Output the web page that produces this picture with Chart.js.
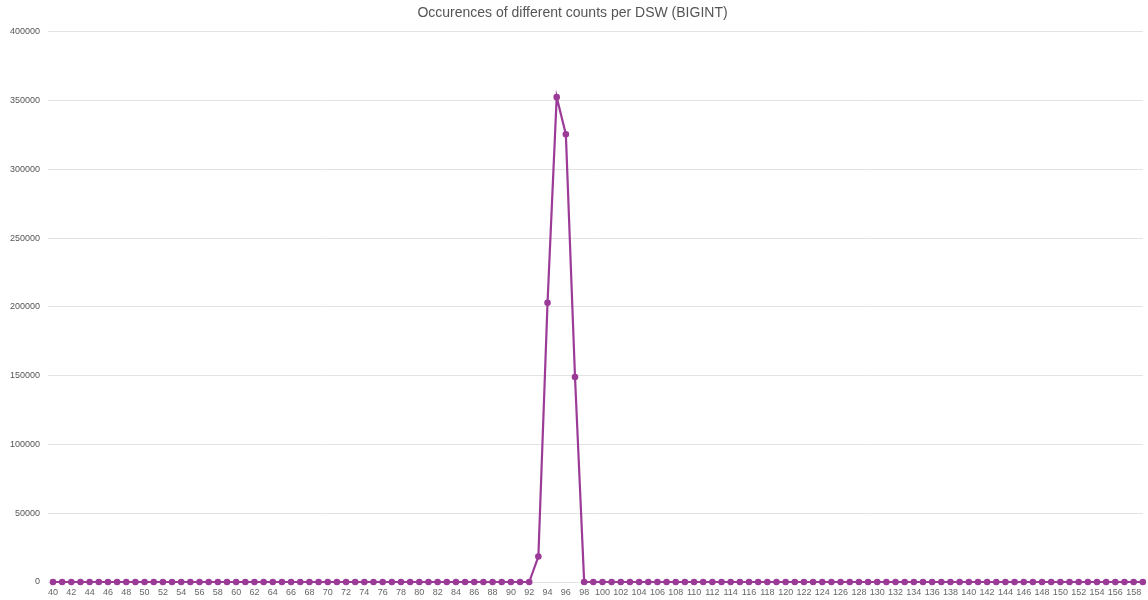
<!DOCTYPE html>
<html lang="en">
<head>
    <meta charset="UTF-8">
    <title>Occurences of different counts per DSW (BIGINT)</title>
    <script src="https://cdn.jsdelivr.net/npm/chart.js"></script>
    <style>
        body { margin: 0; background: #fff; }
        .chart-container { width: 1148px; height: 600px; position: relative; }
    </style>
</head>
<body>
    <div class="chart-container">
        <canvas id="dswChart"></canvas>
    </div>
    <script>
        // counts per DSW, 40 .. 159
        const counts = [];
        for (let c = 40; c <= 159; c++) counts.push(String(c));

        // non-zero occurrences, everything else is 0
        const peakCounts = ["93", "94", "95", "96", "97"];
        const peakValues = [18500, 203000, 352500, 325500, 149000];

        const occurrences = counts.map(c => {
            const i = peakCounts.indexOf(c);
            return i >= 0 ? peakValues[i] : 0;
        });

        const yTicks = [0, 50000, 100000, 150000, 200000, 250000, 300000, 350000, 400000];

        const lineColor = "#9b3a97";
        const font = "'Liberation Sans', Arial, sans-serif";

        new Chart(document.getElementById("dswChart"), {
            type: "line",
            data: {
                labels: counts,
                datasets: [{
                    label: "Occurences",
                    data: occurrences,
                    borderColor: lineColor,
                    backgroundColor: lineColor,
                    borderWidth: 2.2,
                    pointRadius: 2.2,
                    pointHoverRadius: 3,
                    tension: 0,
                    clip: false
                }]
            },
            options: {
                responsive: true,
                maintainAspectRatio: false,
                animation: false,
                layout: { padding: { left: 0, right: 3, top: 0, bottom: 0 } },
                plugins: {
                    legend: { display: false },
                    tooltip: { enabled: false },
                    title: {
                        display: true,
                        text: "Occurences of different counts per DSW (BIGINT)",
                        color: "#555",
                        font: { family: font, size: 14, weight: "normal" },
                        padding: { top: 5, bottom: 10 }
                    }
                },
                scales: {
                    x: {
                        offset: false,
                        grid: { display: false, drawTicks: false, tickLength: 0 },
                        border: { display: false },
                        afterFit: axis => { axis.height = 18; },
                        ticks: {
                            color: "#666",
                            font: { family: font, size: 9 },
                            maxRotation: 0,
                            autoSkip: false,
                            padding: 5,
                            callback: function (value, index) {
                                return index % 2 === 0 ? this.getLabelForValue(value) : "";
                            }
                        }
                    },
                    y: {
                        min: 0,
                        max: 400000,
                        afterBuildTicks: axis => { axis.ticks = yTicks.map(v => ({ value: v })); },
                        afterFit: axis => { axis.width = 53; },
                        grid: { color: "#e3e3e3", tickLength: 5 },
                        border: { display: false },
                        ticks: {
                            color: "#555",
                            font: { family: font, size: 9 },
                            padding: 8,
                            callback: v => String(v)
                        }
                    }
                }
            }
        });
    </script>
</body>
</html>
